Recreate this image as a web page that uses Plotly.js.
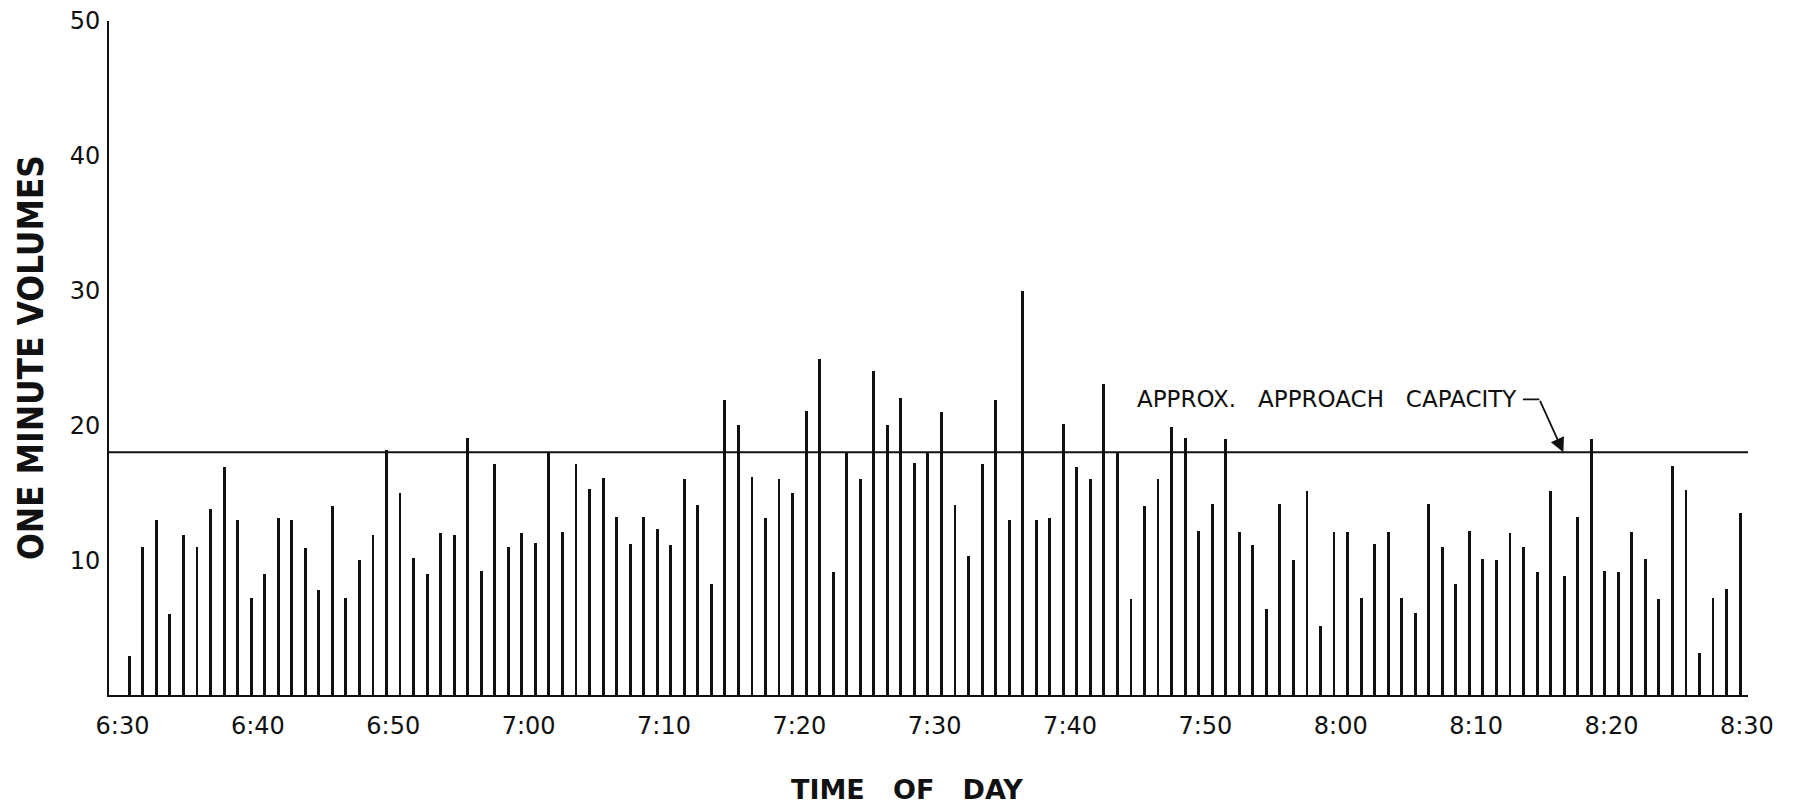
<!DOCTYPE html>
<html>
<head>
<meta charset="utf-8">
<script src="https://cdn.plot.ly/plotly-3.0.1.min.js"></script>
<style>html,body{margin:0;padding:0;background:#fff;}#chart{width:1804px;height:806px;}</style>
</head>
<body>
<div id="chart"></div>
<script>
// Start of each one-minute counting interval
const minuteStarts = [
  '6:30','6:31','6:32','6:33','6:34','6:35','6:36','6:37','6:38','6:39',
  '6:40','6:41','6:42','6:43','6:44','6:45','6:46','6:47','6:48','6:49',
  '6:50','6:51','6:52','6:53','6:54','6:55','6:56','6:57','6:58','6:59',
  '7:00','7:01','7:02','7:03','7:04','7:05','7:06','7:07','7:08','7:09',
  '7:10','7:11','7:12','7:13','7:14','7:15','7:16','7:17','7:18','7:19',
  '7:20','7:21','7:22','7:23','7:24','7:25','7:26','7:27','7:28','7:29',
  '7:30','7:31','7:32','7:33','7:34','7:35','7:36','7:37','7:38','7:39',
  '7:40','7:41','7:42','7:43','7:44','7:45','7:46','7:47','7:48','7:49',
  '7:50','7:51','7:52','7:53','7:54','7:55','7:56','7:57','7:58','7:59',
  '8:00','8:01','8:02','8:03','8:04','8:05','8:06','8:07','8:08','8:09',
  '8:10','8:11','8:12','8:13','8:14','8:15','8:16','8:17','8:18','8:19',
  '8:20','8:21','8:22','8:23','8:24','8:25','8:26','8:27','8:28','8:29'
];

// One minute volumes (vehicles per minute)
const oneMinuteVolumes = [
  2.9, 11.0, 13.0, 6.0, 11.9, 11.0, 13.8, 16.9, 13.0, 7.2,
  9.0, 13.1, 13.0, 10.9, 7.8, 14.0, 7.2, 10.0, 11.9, 18.2,
  15.0, 10.2, 9.0, 12.0, 11.9, 19.1, 9.2, 17.1, 11.0, 12.0,
  11.3, 18.0, 12.1, 17.1, 15.3, 16.1, 13.2, 11.2, 13.2, 12.3,
  11.1, 16.0, 14.1, 8.2, 21.9, 20.0, 16.2, 13.1, 16.0, 15.0,
  21.1, 24.9, 9.1, 18.0, 16.0, 24.0, 20.0, 22.0, 17.2, 18.0,
  21.0, 14.1, 10.3, 17.1, 21.9, 13.0, 30.0, 13.0, 13.1, 20.1,
  16.9, 16.0, 23.1, 18.0, 7.1, 14.0, 16.0, 19.9, 19.1, 12.2,
  14.2, 19.0, 12.1, 11.1, 6.4, 14.2, 10.0, 15.1, 5.1, 12.1,
  12.1, 7.2, 11.2, 12.1, 7.2, 6.1, 14.2, 11.0, 8.2, 12.2,
  10.1, 10.0, 12.0, 11.0, 9.1, 15.1, 8.8, 13.2, 19.0, 9.2,
  9.1, 12.1, 10.1, 7.1, 17.0, 15.2, 3.1, 7.2, 7.9, 13.5
];

const approachCapacity = 18;
const capacityLabel = 'APPROX.\u00a0\u00a0 APPROACH\u00a0\u00a0 CAPACITY';

const tickLabels = ['6:30','6:40','6:50','7:00','7:10','7:20','7:30','7:40','7:50','8:00','8:10','8:20','8:30'];
const yTickValues = [10, 20, 30, 40, 50];
const yTitle = 'ONE MINUTE VOLUMES';
const xTitle = 'TIME\u00a0\u00a0 OF\u00a0\u00a0 DAY';

const day = '2000-01-01 ';
const toDate = t => day + (t.length === 4 ? '0' + t : t);

const trace = {
  type: 'bar',
  x: minuteStarts.map(toDate),
  y: oneMinuteVolumes,
  xperiod: 60000,
  xperiodalignment: 'middle',
  width: 12800,
  marker: {color: '#111111', line: {width: 0}},
  hoverinfo: 'x+y'
};

const arrowTip = toDate('8:16');

const layout = {
  width: 1804,
  height: 806,
  margin: {l: 109, r: 56, t: 21, b: 111},
  paper_bgcolor: '#ffffff',
  plot_bgcolor: '#ffffff',
  showlegend: false,
  font: {family: 'DejaVu Sans, Liberation Sans, sans-serif', color: '#111111', size: 24},
  bargap: 0,
  xaxis: {
    type: 'date',
    range: [day + '06:29:00', day + '08:30:05'],
    tickvals: tickLabels.map(toDate),
    ticktext: tickLabels,
    ticks: 'outside',
    ticklen: 8,
    tickcolor: 'rgba(0,0,0,0)',
    showgrid: false,
    zeroline: false,
    showline: true,
    linecolor: '#111111',
    linewidth: 2,
    tickfont: {size: 24, color: '#111111'},
    fixedrange: true
  },
  yaxis: {
    range: [0, 50],
    tickvals: yTickValues,
    ticktext: yTickValues.map(String),
    ticks: 'outside',
    ticklen: 2,
    tickcolor: 'rgba(0,0,0,0)',
    showgrid: false,
    zeroline: false,
    showline: true,
    linecolor: '#111111',
    linewidth: 2,
    tickfont: {size: 24, color: '#111111'},
    fixedrange: true
  },
  shapes: [
    {type: 'line', xref: 'paper', x0: 0, x1: 1, yref: 'y', y0: approachCapacity, y1: approachCapacity,
     line: {color: '#111111', width: 2}}
  ],
  annotations: [
    {xref: 'paper', yref: 'paper', x: 0, y: 0.5, xshift: -78, xanchor: 'center', yanchor: 'middle',
     textangle: -90, showarrow: false, text: '<b>' + yTitle + '</b>',
     font: {family: 'DejaVu Sans Condensed, DejaVu Sans, sans-serif', size: 35, color: '#111111'}},
    {xref: 'paper', yref: 'paper', x: 0.4866, y: 0, yshift: -94, xanchor: 'center', yanchor: 'middle',
     showarrow: false, text: '<b>' + xTitle + '</b>',
     font: {family: 'DejaVu Sans, sans-serif', size: 27, color: '#111111'}},
    {xref: 'x', yref: 'y', x: arrowTip, y: approachCapacity, xshift: -38, yshift: 53,
     xanchor: 'right', yanchor: 'middle', showarrow: false, text: capacityLabel,
     font: {size: 23, color: '#111111'}},
    {xref: 'x', yref: 'y', x: arrowTip, y: approachCapacity, xshift: -18, yshift: 53,
     text: '', showarrow: true, arrowhead: 0, arrowwidth: 1.8, arrowcolor: '#111111', ax: -18, ay: 0},
    {xref: 'x', yref: 'y', x: arrowTip, y: approachCapacity, xshift: 6,
     text: '', showarrow: true, arrowhead: 2, arrowsize: 1.6, arrowwidth: 1.8, arrowcolor: '#111111', ax: -24, ay: -53}
  ]
};

Plotly.newPlot('chart', [trace], layout, {staticPlot: true, displayModeBar: false});
</script>
</body>
</html>
